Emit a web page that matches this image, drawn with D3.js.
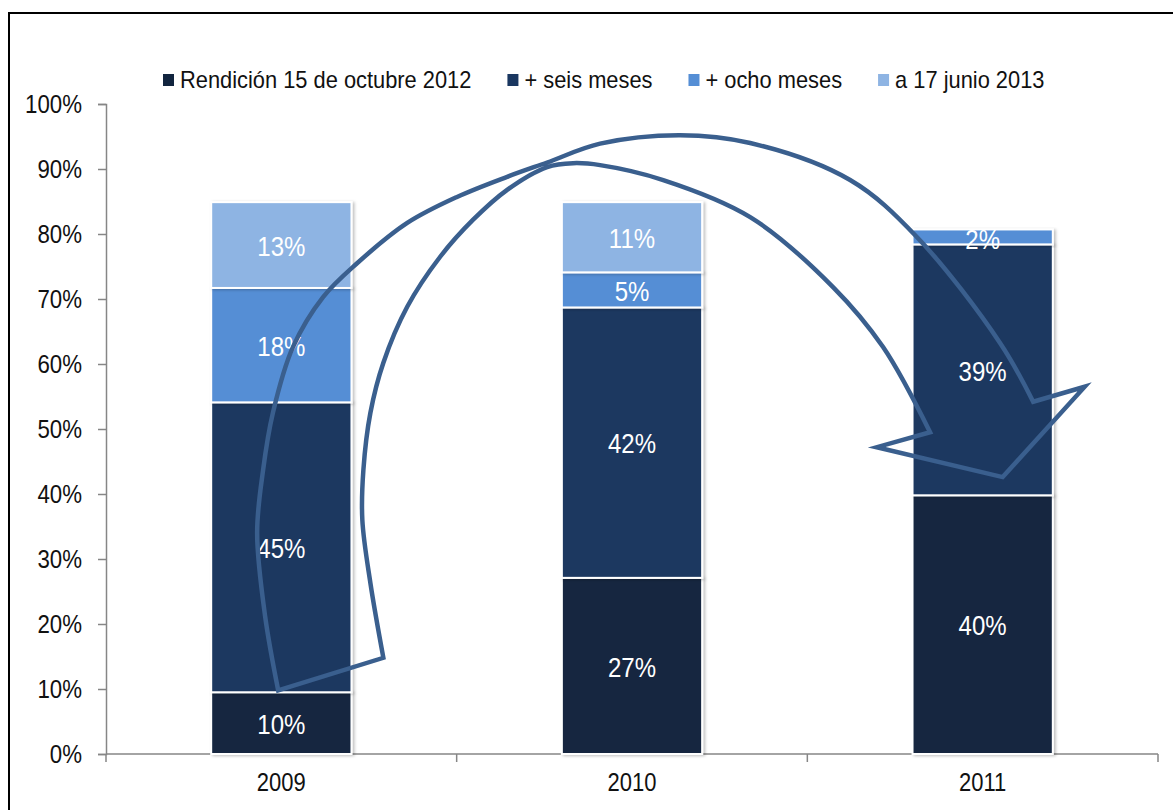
<!DOCTYPE html>
<html>
<head>
<meta charset="utf-8">
<script src="https://cdn.jsdelivr.net/npm/d3@7"></script>
<style>
  body { margin: 0; background: #fff; }
  text { font-family: "Liberation Sans", Arial, sans-serif; }
</style>
</head>
<body>
<div id="chart"></div>
<script>
// data (shares of total, in %)
var years = ["2009", "2010", "2011"];
var seriesNames = ["Rendición 15 de octubre 2012", "+ seis meses", "+ ocho meses", "a 17 junio 2013"];
var rendicion = [9.5, 27.1, 39.8];
var seisMeses = [44.6, 41.6, 38.6];
var ochoMeses = [17.6, 5.4, 2.3];
var junio2013 = [13.2, 10.8, 0];
var yTicks = [0, 10, 20, 30, 40, 50, 60, 70, 80, 90, 100];

// annotation arrow, x in category units (0 = 2009 centre), y in %
var arrowOuter = [[-0.009, 9.8], [-0.046, 21.1], [-0.069, 34.0], [-0.052, 43.7], [-0.024, 52.5],
  [0.033, 62.6], [0.119, 70.3], [0.216, 75.5], [0.359, 81.7], [0.501, 85.7], [0.644, 88.8],
  [0.758, 91.0], [0.909, 93.9], [1.137, 95.2], [1.337, 94.0], [1.622, 88.3], [1.813, 79.5],
  [2.05, 63.2], [2.144, 54.2]];
var arrowHead = [[2.144, 54.2], [2.291, 56.5], [2.057, 42.6], [1.698, 47.2], [1.85, 49.5]];
var arrowInner = [[1.85, 49.5], [1.716, 62.6], [1.574, 71.8], [1.337, 82.6], [1.089, 88.3],
  [0.909, 90.6], [0.832, 90.9], [0.758, 90.3], [0.644, 86.8], [0.547, 82.2], [0.453, 76.5],
  [0.359, 68.8], [0.291, 60.2], [0.254, 52.5], [0.234, 43.7], [0.231, 36.0], [0.254, 26.3],
  [0.291, 14.8]];

(function(){
	var width = 1173, height = 810;
	var margin = { top: 104, right: 15, bottom: 56, left: 106 };
	var colors = ["#12253f", "#1a3760", "#558ed5", "#8eb4e3"];

	// squeeze Liberation Sans to look like the narrow face of the original
	function narrow(k){
		return function(sel){
			sel.each(function(){
				var len = this.getComputedTextLength() * k;
				d3.select(this).attr("textLength", len).attr("lengthAdjust", "spacingAndGlyphs");
			});
		};
	}

	var svg = d3.select("#chart").append("svg")
		.attr("width", width)
		.attr("height", height);

	var defs = svg.append("defs");
	defs.append("filter").attr("id", "shadow")
		.attr("x", "-10%").attr("y", "-10%").attr("width", "130%").attr("height", "130%")
		.append("feDropShadow")
		.attr("dx", 2).attr("dy", 1).attr("stdDeviation", 1.5)
		.attr("flood-color", "#000").attr("flood-opacity", 0.25);

	// outer frame
	svg.append("rect")
		.attr("x", 9).attr("y", 13)
		.attr("width", width + 20).attr("height", height + 20)
		.attr("fill", "none").attr("stroke", "#000").attr("stroke-width", 2);

	var x = d3.scaleBand()
		.domain(years)
		.range([margin.left, width - margin.right])
		.paddingInner(0.6)
		.paddingOuter(0.3);

	var y = d3.scaleLinear()
		.domain([0, 100])
		.range([height - margin.bottom, margin.top]);

	var rows = years.map(function(yr, i){
		return { year: yr, s0: rendicion[i], s1: seisMeses[i], s2: ochoMeses[i], s3: junio2013[i] };
	});
	var keys = ["s0", "s1", "s2", "s3"];
	var stacked = d3.stack().keys(keys)(rows);

	// y axis
	var yAxis = svg.append("g")
		.attr("transform", "translate(" + margin.left + ",0)")
		.call(d3.axisLeft(y).tickValues(yTicks).tickSize(8).tickSizeOuter(8)
			.tickFormat(function(d){ return d + "%"; }));
	yAxis.selectAll("path, line").attr("stroke", "#868686").attr("stroke-width", 1.5);
	yAxis.selectAll("text").attr("font-size", 25).attr("fill", "#111").attr("x", -24)
		.attr("font-family", "'Liberation Sans', Arial, sans-serif")
		.call(narrow(0.89));

	// x axis: baseline with ticks on category boundaries
	var step = x.step();
	var x0 = x.range()[0];
	var bounds = d3.range(years.length + 1).map(function(i){ return x0 + i * step; });
	var xg = svg.append("g");
	xg.append("line")
		.attr("x1", bounds[0]).attr("x2", bounds[bounds.length - 1])
		.attr("y1", y(0)).attr("y2", y(0))
		.attr("stroke", "#868686").attr("stroke-width", 1.5);
	xg.selectAll(".bt").data(bounds).enter().append("line")
		.attr("x1", function(d){ return d; }).attr("x2", function(d){ return d; })
		.attr("y1", y(0)).attr("y2", y(0) + 8)
		.attr("stroke", "#868686").attr("stroke-width", 1.5);
	xg.selectAll(".xl").data(years).enter().append("text")
		.attr("x", function(d){ return x(d) + x.bandwidth() / 2; })
		.attr("y", y(0) + 37)
		.attr("text-anchor", "middle")
		.attr("font-size", 25).attr("fill", "#111")
		.text(function(d){ return d; })
		.call(narrow(0.88));

	// bars
	var layer = svg.append("g").selectAll("g")
		.data(stacked).enter().append("g")
		.attr("fill", function(d, i){ return colors[i]; });

	layer.selectAll("rect")
		.data(function(d){ return d.filter(function(p){ return p[1] - p[0] > 0; }); })
		.enter().append("rect")
		.attr("x", function(d){ return x(d.data.year); })
		.attr("y", function(d){ return y(d[1]); })
		.attr("width", x.bandwidth())
		.attr("height", function(d){ return y(d[0]) - y(d[1]); })
		.attr("stroke", "#fff").attr("stroke-width", 2)
		.attr("filter", "url(#shadow)");

	layer.selectAll("text")
		.data(function(d){ return d.filter(function(p){ return p[1] - p[0] > 0; }); })
		.enter().append("text")
		.attr("x", function(d){ return x(d.data.year) + x.bandwidth() / 2; })
		.attr("y", function(d){ return Math.max((y(d[0]) + y(d[1])) / 2, y(d[1]) + 9); })
		.attr("dy", "0.4em")
		.attr("text-anchor", "middle")
		.attr("fill", "#fff").attr("font-size", 27)
		.text(function(d){ return Math.round(d[1] - d[0]) + "%"; })
		.call(narrow(0.89));

	// legend
	var legend = svg.append("g").attr("transform", "translate(163,80)");
	var lx = 0;
	seriesNames.forEach(function(name, i){
		var g = legend.append("g").attr("transform", "translate(" + lx + ",0)");
		g.append("rect").attr("x", 0).attr("y", -6).attr("width", 11).attr("height", 12)
			.attr("fill", colors[i]);
		var t = g.append("text").attr("x", 17).attr("y", 0).attr("dy", "0.35em")
			.attr("font-size", 24).attr("fill", "#111").text(name)
			.call(narrow(0.91));
		lx += 17 + (+t.attr("textLength")) + 36;
	});

	// curved arrow annotation
	var xc = d3.scaleLinear()
		.domain([0, 2])
		.range([x(years[0]) + x.bandwidth() / 2, x(years[2]) + x.bandwidth() / 2]);
	var curve = d3.line()
		.x(function(d){ return xc(d[0]); })
		.y(function(d){ return y(d[1]); })
		.curve(d3.curveCatmullRom.alpha(0.5));
	var straight = d3.line()
		.x(function(d){ return xc(d[0]); })
		.y(function(d){ return y(d[1]); });
	var pathD = curve(arrowOuter)
		+ straight(arrowHead).replace(/^M/, "L")
		+ curve(arrowInner).replace(/^M/, "L") + "Z";

	svg.append("path")
		.attr("d", pathD)
		.attr("fill", "none")
		.attr("stroke", "#3a5f8e")
		.attr("stroke-width", 4.5)
		.attr("stroke-linejoin", "miter");
})();
</script>
</body>
</html>
